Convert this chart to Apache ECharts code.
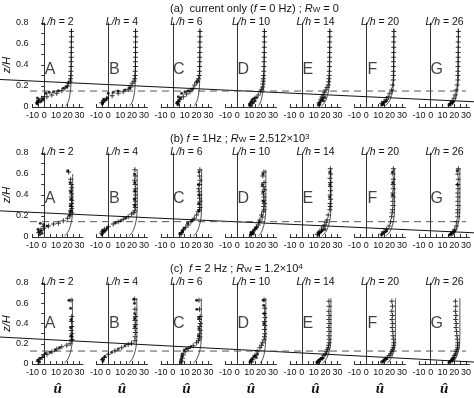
<!DOCTYPE html>
<html>
<head>
<meta charset="utf-8">
<script src="https://cdn.jsdelivr.net/npm/echarts@6/dist/echarts.min.js"></script>
<style>
html, body { margin: 0; padding: 0; background: #fff; }
#chart { width: 474px; height: 398px; }
</style>
</head>
<body>
<div id="chart"></div>
<script>
// panels and labels
const panelLetters = ['A', 'B', 'C', 'D', 'E', 'F', 'G']
const spacingRatios = [2, 4, 6, 10, 14, 20, 26]
const rowTitles = [
  '(a)  current only ({i|f} = 0 Hz) ; {i|R}{sub|W} = 0',
  '(b) {i|f} = 1Hz ; {i|R}{sub|W} = 2.512×10{sup|3}',
  '(c)  {i|f} = 2 Hz ; {i|R}{sub|W} = 1.2×10{sup|4}',
]
const xTickLabels = [-10, 0, 10, 20, 30]
const yTickLabels = [0, 0.2, 0.4, 0.6, 0.8]

// long lines across each row (abscissa = figure width 0..474)
const surfaceLines = [
  [[0, 0.262], [474, 0.05]],
  [[0, 0.249], [474, 0.04]],
  [[0, 0.279], [474, 0.038]],
]
const dashedLines = [
  [[30, 0.152], [466, 0.152]],
  [[30, 0.146], [466, 0.146]],
  [[30, 0.144], [466, 0.144]],
]

// (a) current only
const crossesCurrent = [
  [[23.2,.72],[23.2,.67],[23.1,.62],[23.1,.57],[23,.52],[23,.475],[22.9,.43],[22.8,.385],[22.7,.34],[22.6,.30],[22.4,.27],[22,.245],[20.5,.226],[20,.2],[17.7,.18],[15,.155],[10.7,.13],[6.5,.114],[2.3,.098],[-2.1,.083],[-4.9,.06],[-5.4,.041]],
  [[23,.72],[23.1,.67],[23,.62],[22.9,.57],[23,.52],[22.9,.475],[22.8,.43],[22.8,.385],[22.6,.34],[22.5,.30],[22.2,.27],[21.6,.245],[20.1,.226],[19,.19],[16.7,.17],[12.5,.146],[8.3,.13],[3.2,.108],[-1.4,.083],[-4.3,.06],[-5.6,.041]],
  [[22.9,.72],[22.9,.67],[22.8,.62],[22.8,.57],[22.7,.52],[22.7,.475],[22.6,.43],[22.5,.385],[22.4,.34],[22.2,.30],[21.6,.27],[20.8,.245],[19.9,.235],[18.5,.21],[17.2,.178],[14.4,.146],[11.6,.124],[8.8,.098],[6,.073],[4.6,.05],[4,.035]],
  [[22.9,.72],[22.8,.67],[22.8,.62],[22.7,.57],[22.7,.52],[22.6,.475],[22.5,.43],[22.4,.385],[22.3,.34],[22.1,.30],[21.8,.27],[21.8,.245],[21.5,.22],[21.3,.19],[20.5,.17],[19.6,.146],[17.6,.114],[14.8,.083],[12.9,.05],[11.4,.03]],
  [[23.6,.72],[23.6,.67],[23.5,.62],[23.5,.57],[23.4,.52],[23.4,.475],[23.3,.43],[23.2,.385],[23.1,.34],[23,.30],[22.8,.27],[22.6,.24],[22.2,.21],[21.2,.185],[20.3,.162],[19.2,.14],[18,.114],[17,.095],[16,.073],[14.6,.041]],
  [[23.2,.72],[23.2,.67],[23.1,.62],[23.1,.57],[23,.52],[23,.475],[22.9,.43],[22.9,.385],[22.8,.34],[22.8,.30],[22.6,.257],[22.1,.21],[21.3,.162],[19.8,.13],[18.4,.098],[17,.073],[14.8,.05],[12.9,.035]],
  [[23.5,.72],[23.5,.67],[23.4,.62],[23.4,.57],[23.3,.52],[23.3,.475],[23.2,.43],[23.2,.385],[23.1,.34],[23.1,.30],[23,.257],[22.5,.21],[21.7,.162],[20.8,.114],[19.7,.083],[18.3,.05],[16.6,.03]],
]
const dotsCurrent = [
  [[-6.3,.04],[-5.5,.055],[-4.2,.07],[-5.8,.085],[-3,.05],[-1.5,.065],[-0.7,.08],[1.5,.13],[4.3,.14],[7.9,.146],[12.1,.155],[16.3,.178],[19.1,.193],[-6,.03]],
  [[-0.1,.13],[4.1,.14],[8.3,.152],[14,.162],[-4.7,.04],[-3.5,.055],[-2,.07],[-4,.075],[-0.7,.085],[-5,.03],[18,.18]],
  [[4.6,.098],[7.4,.13],[10.2,.146],[5,.06],[3.5,.041],[12.9,.155],[6.5,.085],[4.2,.025],[16,.17]],
  [[10.5,.03],[11.5,.05],[12.5,.07],[13.5,.04],[15,.06],[16.2,.09],[10.2,.02],[14,.08],[12,.015]],
  [[13.8,.02],[14.5,.035],[15.5,.05],[16.5,.065],[17.5,.08],[19.4,.09],[15,.025],[18.2,.06]],
  [[12.9,.02],[13.8,.035],[15,.045],[16.2,.055],[17,.06],[14,.025]],
  [[15.5,.02],[16.5,.03],[17.5,.04],[18.8,.05],[16,.025]],
]
const theoryCurrent = [
  [[23.1,.75],[23,.3],[22.8,.22],[22.4,.16],[21.8,.11],[21,.07],[20,.04],[19,.022],[18,.01]],
  [[22.9,.75],[22.8,.3],[22.6,.22],[22.2,.16],[21.6,.11],[20.8,.07],[19.8,.04],[18.8,.022],[17.8,.01]],
  [[22.8,.75],[22.7,.3],[22.5,.22],[22.1,.16],[21.5,.11],[20.7,.07],[19.7,.04],[18.7,.022],[17.7,.01]],
  [[22.7,.75],[22.6,.3],[22.4,.22],[21.8,.16],[21,.11],[20.2,.07],[19.3,.04],[18.4,.02],[17.5,.01]],
  [[23.5,.75],[23.4,.3],[23.2,.22],[22.6,.16],[21.6,.11],[20.4,.07],[19,.04],[17.6,.02],[16.4,.01]],
  [[23.2,.75],[23.1,.3],[22.9,.22],[22.3,.16],[21.3,.11],[20,.07],[18.4,.04],[16.8,.02],[15.5,.01]],
  [[23.5,.75],[23.4,.3],[23.2,.22],[22.7,.16],[21.9,.11],[21,.07],[19.8,.04],[18.5,.02],[17.3,.01]],
]

// (b) f = 1 Hz
const crosses1Hz = [
  [[20.8,.62],[22.5,.55],[23,.5],[23.3,.47],[22.8,.44],[23.3,.41],[23,.38],[23.5,.35],[23.2,.32],[23,.29],[23.3,.27],[22.5,.25],[23.5,.23],[21.9,.2],[19.9,.178],[16.3,.155],[12.1,.13],[7.9,.124],[3.7,.105],[-0.5,.083],[-3.3,.067],[-4.7,.041]],
  [[22.4,.64],[22.6,.58],[22.2,.54],[22.6,.5],[22.8,.46],[22.5,.43],[22.9,.4],[22.6,.37],[22.8,.34],[22.4,.31],[22.7,.28],[22.3,.25],[21.5,.23],[19.6,.22],[16.7,.193],[12.5,.168],[8.3,.146],[4.1,.124],[-0.1,.098],[-3.4,.073],[-5.1,.05],[-5.6,.035]],
  [[22.8,.64],[22.5,.58],[23,.54],[22.6,.5],[21.8,.46],[22.2,.43],[22.8,.4],[22.5,.37],[23,.34],[22.6,.31],[22.8,.28],[22.4,.26],[21.3,.24],[20,.21],[18,.178],[15.2,.146],[12.9,.114],[10.8,.092],[8.7,.067],[7.4,.041],[6.8,.026]],
  [[22.4,.62],[21.5,.58],[22.5,.52],[21.8,.48],[22.8,.45],[22,.41],[22.5,.38],[22.3,.35],[22.8,.32],[22.2,.29],[22.5,.26],[21.8,.24],[20.4,.21],[21,.19],[19,.162],[18.3,.14],[17.6,.114],[16.2,.095],[14.8,.073],[12.9,.041],[12,.026]],
  [[24,.65],[24.2,.6],[23.8,.56],[24.2,.52],[24,.48],[24.3,.44],[23.9,.4],[24.2,.36],[23.8,.32],[24,.29],[23.6,.26],[22.2,.21],[21.3,.162],[20.5,.14],[19.4,.114],[18,.095],[16.6,.073],[14.6,.041],[12.9,.026]],
  [[22.8,.65],[22.4,.6],[22.8,.55],[22.5,.5],[22.7,.46],[22.3,.42],[22.6,.38],[22.3,.34],[22.5,.3],[22.1,.26],[21.8,.23],[21.3,.193],[20.4,.146],[19.2,.105],[17.1,.073],[14.8,.05],[12.9,.029]],
  [[23.5,.65],[23,.6],[23.4,.55],[23,.5],[23.3,.46],[23,.42],[23.2,.38],[23,.34],[23.2,.3],[23,.26],[23,.23],[23,.193],[22.2,.146],[21.7,.105],[20.5,.073],[18.8,.048],[17.5,.029]],
]
const dots1Hz = [
  [[20,.63],[22,.52],[22.5,.43],[22.8,.36],[22.3,.3],[22,.24],[21.5,.21],[-3.3,.13],[-0.5,.12],[2.3,.105],[-5.2,.073],[-4.7,.05],[-2.4,.06],[-1.9,.035],[-3.8,.025]],
  [[22,.6],[22.2,.52],[22.4,.44],[22,.36],[22.2,.3],[-5.5,.025],[-4.5,.04],[-3,.055],[-2,.07],[-4.8,.065],[10.5,.155],[14.5,.18],[-1,.085],[6,.135]],
  [[22,.62],[21.5,.5],[22,.4],[21.8,.32],[22,.25],[7.9,.05],[9.6,.083],[6,.035],[12.4,.13],[8.2,.06],[16.5,.16]],
  [[21.5,.6],[21,.5],[21.5,.43],[21.8,.34],[11,.02],[12,.035],[13,.05],[14,.065],[15.2,.08],[16.2,.09],[11.5,.045],[13.5,.03]],
  [[23.5,.62],[23.6,.5],[23.4,.38],[13.7,.02],[14.5,.035],[15.5,.045],[16.5,.055],[17.5,.065],[19.4,.075],[14.2,.05]],
  [[22,.62],[22.2,.52],[22,.4],[12.9,.02],[14,.035],[15.3,.045],[16.5,.055],[17,.06]],
  [[22.5,.63],[22.8,.5],[16,.02],[17,.03],[18.2,.04],[19.5,.05],[20.3,.06]],
]
const theory1Hz = [
  [[24.2,.6],[24.2,.3],[24,.22],[23.4,.16],[22.4,.11],[21.2,.07],[19.8,.04],[18.5,.022],[17.2,.01]],
  [[24.3,.64],[24.3,.3],[24.1,.22],[23.5,.16],[22.5,.11],[21.3,.07],[19.9,.04],[18.6,.022],[17.3,.01]],
  [[24.2,.64],[24.2,.3],[24,.22],[23.4,.16],[22.4,.11],[21.2,.07],[19.8,.04],[18.5,.022],[17.2,.01]],
  [[24,.64],[24,.3],[23.8,.22],[23.2,.16],[22.3,.11],[21.2,.07],[20,.04],[18.8,.022],[17.8,.01]],
  [[24.5,.65],[24.5,.3],[24.3,.22],[23.6,.16],[22.5,.11],[21.2,.07],[19.6,.04],[18.1,.022],[16.8,.01]],
  [[23.8,.65],[23.8,.3],[23.6,.22],[23,.16],[22,.11],[20.8,.07],[19.2,.04],[17.6,.022],[16.2,.01]],
  [[24.8,.65],[24.8,.3],[24.6,.22],[24,.16],[23,.11],[21.9,.07],[20.5,.04],[19.2,.022],[18,.01]],
]

// (c) f = 2 Hz
const crosses2Hz = [
  [[22.8,.63],[23.5,.47],[23.2,.42],[23.5,.37],[23,.33],[23.6,.3],[23.2,.27],[23.6,.245],[23.4,.234],[22,.2],[19.2,.186],[15,.17],[10.8,.147],[6.6,.122],[2.4,.096],[-1.8,.064],[-4.7,.041],[-5.2,.026]],
  [[22.2,.64],[22.4,.54],[22.8,.47],[22.5,.43],[22.8,.39],[22.5,.35],[22.8,.31],[22.5,.27],[22.4,.23],[19.5,.205],[16.7,.192],[11.2,.16],[5.5,.13],[-0.1,.096],[-3.4,.064],[-5.1,.041]],
  [[22,.63],[22.5,.54],[23,.47],[22.5,.44],[23.2,.4],[22.7,.37],[23,.33],[22.6,.3],[22.8,.27],[22.2,.25],[21.5,.23],[20,.21],[17.2,.18],[13,.154],[10.2,.122],[8.8,.09],[8,.058],[7.4,.026]],
  [[22.5,.635],[23,.55],[22.8,.5],[23.2,.46],[22.9,.42],[23.2,.38],[22.9,.34],[23.1,.3],[22.8,.27],[22.5,.24],[21.3,.21],[20.3,.185],[19,.16],[16.7,.122],[14.8,.083],[12.9,.041],[12,.019]],
  [[22.8,.62],[23,.57],[22.7,.52],[23,.48],[22.8,.44],[23,.4],[22.7,.36],[23,.32],[22.8,.28],[23,.245],[23,.21],[22.5,.185],[22.2,.16],[21.5,.14],[20.8,.122],[19.8,.1],[18.6,.083],[17.2,.06],[15.8,.041],[13.8,.019]],
  [[21.5,.62],[22,.57],[21.5,.52],[22,.48],[21.6,.44],[22.2,.4],[21.8,.36],[22.3,.32],[22.5,.28],[22.8,.245],[23.2,.21],[23,.185],[22.6,.16],[22,.14],[21.3,.122],[20.3,.1],[19.2,.083],[18,.065],[16.5,.051],[14.2,.026]],
  [[21,.62],[21.3,.57],[21,.52],[21.5,.48],[21.2,.44],[21.7,.4],[21.5,.36],[22,.32],[22.3,.28],[22.6,.245],[23,.21],[22.9,.185],[22.8,.16],[22.3,.14],[21.7,.122],[21,.1],[20.3,.083],[19.5,.065],[18.8,.051],[16.9,.026]],
]
const dots2Hz = [
  [[21,.63],[22.5,.55],[22.8,.44],[22.5,.36],[22.8,.28],[0.9,.106],[5.1,.115],[9.3,.138],[-3.3,.058],[-5.2,.035],[-0.5,.074],[13,.16],[-4,.02]],
  [[21.5,.64],[22,.6],[22.2,.5],[22,.45],[22.2,.37],[14,.18],[8.3,.147],[2.8,.115],[-2.9,.074],[-5,.05],[-4.5,.03]],
  [[20,.63],[20.2,.54],[21.8,.46],[22,.35],[21.5,.28],[9.6,.138],[7.4,.074],[6.8,.042],[11.5,.15],[15,.17],[7.8,.1],[7,.015]],
  [[22,.63],[22.2,.58],[22.5,.5],[22.3,.4],[10.6,.02],[11.5,.04],[12.5,.055],[13.8,.07],[15,.085],[17,.1],[11,.03],[16,.065]],
  [[12.7,.02],[13.5,.03],[14.5,.04],[15.5,.05],[16.5,.055],[17.7,.06],[13,.012]],
  [[12.9,.02],[14,.03],[15.2,.04],[16.2,.05],[17,.055]],
  [[15.5,.015],[16.5,.025],[17.5,.035],[18.5,.045],[19.3,.055]],
]
const theory2Hz = [
  [[24,.65],[24,.3],[23.8,.22],[23.2,.16],[22.2,.11],[21,.07],[19.6,.04],[18.3,.02],[17.2,.01]],
  [[24,.65],[24,.3],[23.8,.22],[23.2,.16],[22.2,.11],[21,.07],[19.6,.04],[18.3,.02],[17.2,.01]],
  [[24,.65],[24,.3],[23.8,.22],[23.2,.16],[22.2,.11],[21,.07],[19.6,.04],[18.3,.02],[17.2,.01]],
  [[24,.65],[24,.3],[23.8,.22],[23.4,.16],[22.8,.11],[22,.07],[21,.04],[20,.02],[19,.01]],
  [[24.5,.65],[24.5,.3],[24.3,.22],[23.7,.16],[22.7,.11],[21.5,.07],[20,.04],[18.6,.02],[17.4,.01]],
  [[24.5,.65],[24.5,.3],[24.3,.22],[23.7,.16],[22.7,.11],[21.5,.07],[20,.04],[18.6,.02],[17.4,.01]],
  [[24.8,.65],[24.8,.3],[24.6,.22],[24,.16],[23,.11],[21.9,.07],[20.5,.04],[19.2,.02],[18,.01]],
]

// letters positions (u, z) inside each panel
const letterPos = [[5, 0.36], [5, 0.37], [5, 0.4]]

const rows = [
  { crosses: crossesCurrent, dots: dotsCurrent, theory: theoryCurrent },
  { crosses: crosses1Hz, dots: dots1Hz, theory: theory1Hz },
  { crosses: crosses2Hz, dots: dots2Hz, theory: theory2Hz },
]

const rowTop = [23, 153, 283]
const rowHeight = [84, 84, 83]
const panelLeft = 32
const panelStep = 64.5
const panelWidth = 51
const font = "'Liberation Sans', Arial, sans-serif"
const plusPath = 'path://M4,0H6V10H4ZM0,4H10V6H0Z'

const grid = []
const xAxis = []
const yAxis = []
const series = []
const title = []

rowTitles.forEach((text, r) => {
  title.push({
    text,
    left: 170,
    top: rowTop[r] - 20,
    padding: 0,
    textStyle: {
      fontFamily: font, fontSize: 11, fontWeight: 'normal', color: '#111',
      rich: {
        i: { fontFamily: font, fontSize: 11, fontStyle: 'italic', color: '#111' },
        sub: { fontFamily: font, fontSize: 8, color: '#111', verticalAlign: 'bottom', lineHeight: 8 },
        sup: { fontFamily: font, fontSize: 8, color: '#111', verticalAlign: 'top', lineHeight: 8 },
      },
    },
  })
})

rows.forEach((row, r) => {
  panelLetters.forEach((letter, p) => {
    const gi = grid.length
    const left = panelLeft + panelStep * p
    grid.push({ left, top: rowTop[r], width: panelWidth, height: rowHeight[r], containLabel: false })
    xAxis.push({
      gridIndex: gi, type: 'value',
      min: xTickLabels[0], max: 33, interval: 5,
      name: r === 2 ? 'û' : '', nameLocation: 'middle', nameGap: 18,
      nameTextStyle: { fontFamily: "'Liberation Serif', serif", fontSize: 15, fontStyle: 'italic', fontWeight: 'bold', color: '#111' },
      axisLine: { lineStyle: { color: '#333', width: 1 } },
      axisTick: { show: true, inside: true, length: 3, interval: 0, lineStyle: { color: '#333' } },
      axisLabel: {
        showMaxLabel: false, fontFamily: font, fontSize: 9, color: '#111', margin: 4,
        formatter: v => xTickLabels.includes(v) ? String(v) : '',
      },
      splitLine: { show: false },
    })
    yAxis.push({
      gridIndex: gi, type: 'value',
      min: yTickLabels[0], max: yTickLabels[yTickLabels.length - 1], interval: 0.1,
      name: p === 0 ? 'z/H' : '', nameLocation: 'middle', nameGap: 19, nameRotate: 90,
      nameTextStyle: { fontFamily: font, fontSize: 11, fontStyle: 'italic', color: '#111' },
      axisLine: { show: true, lineStyle: { color: '#333', width: 1 } },
      axisTick: { show: p === 0, length: 3, interval: 0, lineStyle: { color: '#333' } },
      axisLabel: {
        show: p === 0, fontFamily: font, fontSize: 9, color: '#111', margin: 4,
        formatter: v => {
          const t = Math.round(v * 10) / 10
          return yTickLabels.includes(t) ? String(t) : ''
        },
      },
      splitLine: { show: false },
    })
    title.push({
      text: '{i|L/h} = ' + spacingRatios[p],
      left: left + panelWidth / 2, top: rowTop[r] - 6, textAlign: 'center', padding: 0,
      textStyle: {
        fontFamily: font, fontSize: 10.5, fontWeight: 'normal', color: '#111',
        rich: { i: { fontFamily: font, fontSize: 10.5, fontStyle: 'italic', color: '#111' } },
      },
    })
    series.push({
      type: 'line', xAxisIndex: gi, yAxisIndex: gi, data: row.theory[p],
      symbol: 'none', smooth: 0.3, lineStyle: { color: '#222', width: 0.8 }, z: 3, silent: true,
    })
    series.push({
      type: 'scatter', xAxisIndex: gi, yAxisIndex: gi, data: row.crosses[p],
      symbol: plusPath, symbolSize: 5, itemStyle: { color: '#000' }, z: 4, silent: true,
    })
    series.push({
      type: 'scatter', xAxisIndex: gi, yAxisIndex: gi, data: row.dots[p],
      symbol: 'circle', symbolSize: 3, itemStyle: { color: '#000' }, z: 4, silent: true,
    })
    series.push({
      type: 'scatter', xAxisIndex: gi, yAxisIndex: gi, data: [letterPos[r]],
      symbolSize: 0, silent: true,
      label: { show: true, position: 'inside', formatter: letter, fontFamily: font, fontSize: 16, color: '#111' },
    })
  })
})

// overlay grids for the lines that run across each row
rows.forEach((row, r) => {
  const gi = grid.length
  grid.push({ left: 0, top: rowTop[r], width: 474, height: rowHeight[r] })
  xAxis.push({ gridIndex: gi, type: 'value', min: 0, max: 474, show: false })
  yAxis.push({ gridIndex: gi, type: 'value', min: 0, max: 0.8, show: false })
  series.push({
    type: 'line', xAxisIndex: gi, yAxisIndex: gi, data: surfaceLines[r],
    symbol: 'none', lineStyle: { color: '#111', width: 1 }, z: 2, silent: true,
  })
  series.push({
    type: 'line', xAxisIndex: gi, yAxisIndex: gi, data: dashedLines[r],
    symbol: 'none', lineStyle: { color: '#555', width: 1, type: [7, 5] }, z: 2, silent: true,
  })
})

const chart = echarts.init(document.getElementById('chart'))
chart.setOption({
  animation: false,
  backgroundColor: '#fff',
  title,
  grid,
  xAxis,
  yAxis,
  series,
})
</script>
</body>
</html>
